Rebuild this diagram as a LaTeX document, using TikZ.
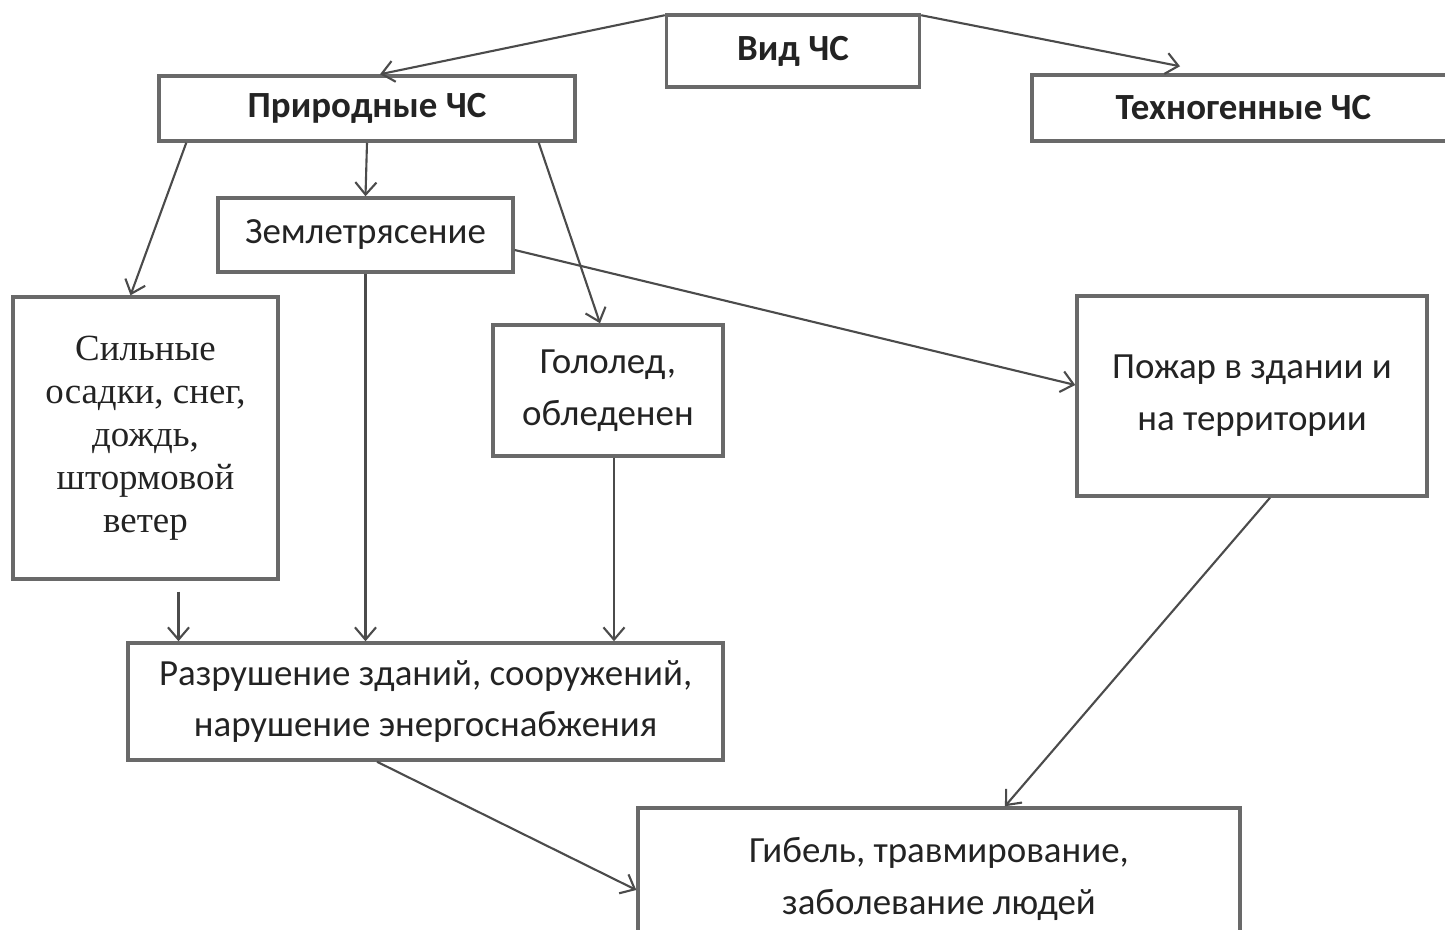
\documentclass[tikz,border=0pt]{standalone}
\usepackage{fontspec}
\setmainfont{Carlito}
\newfontfamily\timesfont{Liberation Serif}
\usetikzlibrary{arrows.meta, positioning, calc}
\definecolor{frame-gray}{RGB}{105,105,105}
\definecolor{line-gray}{RGB}{75,75,75}
\definecolor{text-gray}{RGB}{35,35,35}

\begin{document}
\begin{tikzpicture}[
    x=0.02cm, y=-0.02cm,
    box/.style={rectangle, draw=frame-gray, line width=2pt, inner sep=0pt, align=center, text=text-gray, font=\fontsize{21}{29.5}\selectfont},
    head/.style={box, font=\fontsize{21}{29.5}\selectfont\bfseries},
    arrow/.style={-{Straight Barb[length=7pt, width=12pt]}, draw=line-gray, line width=1.2pt}
]
\clip (0,0) rectangle (1445,930);

% Top level
\node[head, minimum width=5.06cm, minimum height=1.44cm] (vid) at (793,51) {Вид ЧС};
\node[head, minimum width=8.32cm, minimum height=1.3cm] (prir) at (367,108.5) {Природные ЧС};
\node[head, minimum width=8.46cm, minimum height=1.32cm] (tech) at (1243.5,108) {Техногенные ЧС};

% Natural hazards
\node[box, minimum width=5.9cm, minimum height=1.48cm] (zem) at (365.5,235) {Землетрясение};
\node[box, minimum width=5.3cm, minimum height=5.64cm, font=\timesfont\fontsize{21}{24.5}\selectfont] (sil) at (145.5,438) {Сильные\\осадки, снег,\\дождь,\\штормовой\\ветер};
\node[box, minimum width=4.6cm, minimum height=2.62cm] (gol) at (608,390.5) {Гололед,\\обледенен};
\node[box, minimum width=7cm, minimum height=4cm] (pozh) at (1252,396) {Пожар в здании и\\на территории};

% Consequences
\node[box, minimum width=11.9cm, minimum height=2.34cm] (razr) at (425.5,701.5) {Разрушение зданий, сооружений,\\нарушение энергоснабжения};
\node[box, minimum width=12.04cm, minimum height=2.84cm] (gib) at (939,879) {Гибель, травмирование,\\заболевание людей};

\coordinate (silout) at ([shift={(0.66cm,-0.22cm)}]sil.south);

% Arrows
\draw[arrow] ([yshift=-0.04cm]vid.north west) -- ([xshift=0.26cm]prir.north);
\draw[arrow] ([yshift=-0.04cm]vid.north east) -- ([shift={(-1.27cm,0.14cm)}]tech.north);
\draw[arrow] ([xshift=0.58cm]prir.south west) -- ([xshift=-0.3cm]sil.north);
\draw[arrow] (prir.south) -- (zem.north);
\draw[arrow] ([xshift=-0.76cm]prir.south east) -- ([xshift=-0.16cm]gol.north);
\draw[arrow] ([yshift=-0.3cm]zem.east) -- ([yshift=0.22cm]pozh.west);
\draw[arrow] (zem.south) -- (zem.south |- razr.north);
\draw[arrow] ([xshift=0.12cm]gol.south) -- ([xshift=0.12cm]gol.south |- razr.north);
\draw[arrow] (silout) -- (silout |- razr.north);
\draw[arrow] ([xshift=-0.97cm]razr.south) -- ([yshift=-0.22cm]gib.west);
\draw[arrow] ([xshift=0.36cm]pozh.south) -- ([xshift=1.32cm]gib.north);

\end{tikzpicture}
\end{document}
